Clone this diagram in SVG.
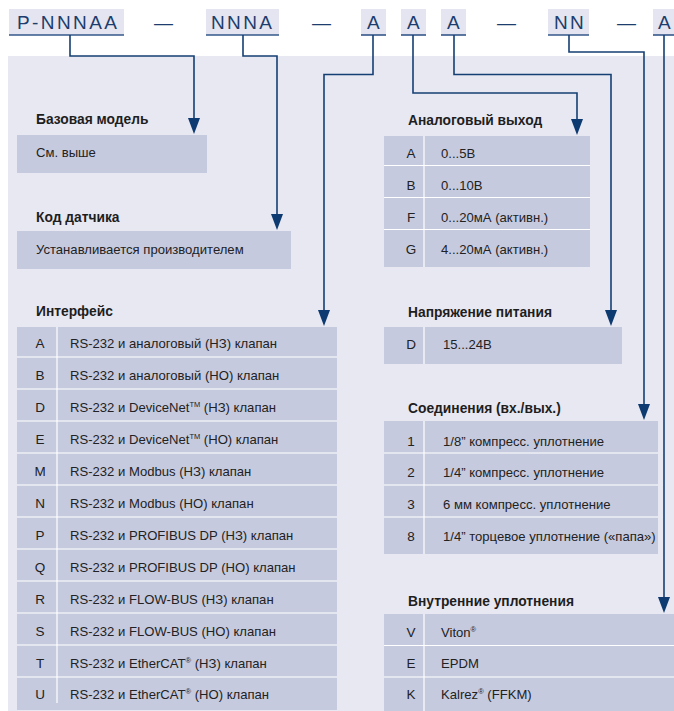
<svg xmlns="http://www.w3.org/2000/svg" width="674" height="711" viewBox="0 0 674 711">
<style>
.hbox{fill:#e4e5f0}
.hline{stroke:#34578a;stroke-width:1.6}
.htxt{font-family:"Liberation Sans",Arial,sans-serif;font-size:19px;fill:#1c3d6e;letter-spacing:2.4px}
.dash{font-family:"Liberation Sans",Arial,sans-serif;font-size:19px;fill:#1c3d6e}
.panel{fill:#e8e8f2}
.cell{fill:#c6cadf}
.sep{stroke:#ffffff;stroke-width:1.2}
.title{font-family:"Liberation Sans",Arial,sans-serif;font-size:13.8px;font-weight:bold;fill:#1e1e1e}
.t{font-family:"Liberation Sans",Arial,sans-serif;font-size:13.1px;fill:#222222}
.k{font-family:"Liberation Sans",Arial,sans-serif;font-size:13.5px;fill:#222222;text-anchor:middle}
.sup{font-size:7.5px}
.conn{fill:none;stroke:#143f74;stroke-width:1.6}
</style>
<defs>
<marker id="arr" markerUnits="userSpaceOnUse" markerWidth="16" markerHeight="12" refX="3" refY="6" orient="auto">
<path d="M0,0 L16,6 L0,12 z" fill="#0d3a70"/>
</marker>
</defs>

<rect class="panel" x="8" y="56" width="666" height="655"/>

<g id="header">
<g id="h-pnnnaa"><rect class="hbox" x="9" y="9" width="115" height="26"/><line class="hline" x1="9" y1="35" x2="124" y2="35"/><text class="htxt" x="17" y="28.5">P-NNNAA</text></g>
<text class="dash" x="154" y="28.5">—</text>
<g id="h-nnna"><rect class="hbox" x="206" y="9" width="73" height="26"/><line class="hline" x1="206" y1="35" x2="279" y2="35"/><text class="htxt" x="211" y="28.5">NNNA</text></g>
<text class="dash" x="312" y="28.5">—</text>
<g id="h-a1"><rect class="hbox" x="361" y="9" width="25" height="26"/><line class="hline" x1="361" y1="35" x2="386" y2="35"/><text class="htxt" x="374.5" y="28.5" text-anchor="middle">A</text></g>
<g id="h-a2"><rect class="hbox" x="401" y="9" width="25" height="26"/><line class="hline" x1="401" y1="35" x2="426" y2="35"/><text class="htxt" x="414.5" y="28.5" text-anchor="middle">A</text></g>
<g id="h-a3"><rect class="hbox" x="441" y="9" width="25" height="26"/><line class="hline" x1="441" y1="35" x2="466" y2="35"/><text class="htxt" x="454.5" y="28.5" text-anchor="middle">A</text></g>
<text class="dash" x="497" y="28.5">—</text>
<g id="h-nn"><rect class="hbox" x="548" y="9" width="41" height="26"/><line class="hline" x1="548" y1="35" x2="589" y2="35"/><text class="htxt" x="570" y="28.5" text-anchor="middle">NN</text></g>
<text class="dash" x="617" y="28.5">—</text>
<g id="h-a4"><rect class="hbox" x="653" y="9" width="25" height="26"/><line class="hline" x1="653" y1="35" x2="678" y2="35"/><text class="htxt" x="665.5" y="28.5" text-anchor="middle">A</text></g>
</g>

<g id="connectors">
<path class="conn" d="M70,35 V56 H194 V121" marker-end="url(#arr)"/>
<path class="conn" d="M243,35 V56 H277 V217" marker-end="url(#arr)"/>
<path class="conn" d="M373,35 V74.5 H324 V313" marker-end="url(#arr)"/>
<path class="conn" d="M413,35 V93 H577 V122" marker-end="url(#arr)"/>
<path class="conn" d="M454,35 V74.5 H611 V313" marker-end="url(#arr)"/>
<path class="conn" d="M569,35 V52 H644 V407" marker-end="url(#arr)"/>
<path class="conn" d="M664,35 V600" marker-end="url(#arr)"/>
</g>

<g id="base-model">
<text class="title" x="36" y="124">Базовая модель</text>
<rect class="cell" x="17" y="135" width="190" height="38"/>
<text class="t" x="36" y="157">См. выше</text>
</g>

<g id="sensor-code">
<text class="title" x="36" y="222">Код датчика</text>
<rect class="cell" x="17" y="231" width="274" height="38"/>
<text class="t" x="36" y="254">Устанавливается производителем</text>
</g>

<g id="interface">
<text class="title" x="36" y="316">Интерфейс</text>
<rect class="cell" x="17" y="327" width="320" height="383"/>
<line class="sep" x1="57" y1="327" x2="57" y2="703"/>
<line class="sep" x1="17" y1="357" x2="337" y2="357"/>
<line class="sep" x1="17" y1="389" x2="337" y2="389"/>
<line class="sep" x1="17" y1="421" x2="337" y2="421"/>
<line class="sep" x1="17" y1="453" x2="337" y2="453"/>
<line class="sep" x1="17" y1="485" x2="337" y2="485"/>
<line class="sep" x1="17" y1="517" x2="337" y2="517"/>
<line class="sep" x1="17" y1="549" x2="337" y2="549"/>
<line class="sep" x1="17" y1="581" x2="337" y2="581"/>
<line class="sep" x1="17" y1="613" x2="337" y2="613"/>
<line class="sep" x1="17" y1="645" x2="337" y2="645"/>
<line class="sep" x1="17" y1="677" x2="337" y2="677"/>
<text class="k" x="40" y="348">A</text><text class="t" x="70" y="348">RS-232 и аналоговый (НЗ) клапан</text>
<text class="k" x="40" y="380">B</text><text class="t" x="70" y="380">RS-232 и аналоговый (НО) клапан</text>
<text class="k" x="40" y="412">D</text><text class="t" x="70" y="412">RS-232 и DeviceNet<tspan class="sup" dy="-5">TM</tspan><tspan dy="5"> (НЗ) клапан</tspan></text>
<text class="k" x="40" y="444">E</text><text class="t" x="70" y="444">RS-232 и DeviceNet<tspan class="sup" dy="-5">TM</tspan><tspan dy="5"> (НО) клапан</tspan></text>
<text class="k" x="40" y="476">M</text><text class="t" x="70" y="476">RS-232 и Modbus (НЗ) клапан</text>
<text class="k" x="40" y="508">N</text><text class="t" x="70" y="508">RS-232 и Modbus (НО) клапан</text>
<text class="k" x="40" y="540">P</text><text class="t" x="70" y="540">RS-232 и PROFIBUS DP (НЗ) клапан</text>
<text class="k" x="40" y="572">Q</text><text class="t" x="70" y="572">RS-232 и PROFIBUS DP (НО) клапан</text>
<text class="k" x="40" y="604">R</text><text class="t" x="70" y="604">RS-232 и FLOW-BUS (НЗ) клапан</text>
<text class="k" x="40" y="636">S</text><text class="t" x="70" y="636">RS-232 и FLOW-BUS (НО) клапан</text>
<text class="k" x="40" y="668">T</text><text class="t" x="70" y="668">RS-232 и EtherCAT<tspan class="sup" dy="-5">®</tspan><tspan dy="5"> (НЗ) клапан</tspan></text>
<text class="k" x="40" y="699">U</text><text class="t" x="70" y="699">RS-232 и EtherCAT<tspan class="sup" dy="-5">®</tspan><tspan dy="5"> (НО) клапан</tspan></text>
</g>

<g id="analog-output">
<text class="title" x="408" y="125">Аналоговый выход</text>
<rect class="cell" x="384" y="136" width="206" height="131"/>
<line class="sep" x1="424" y1="136" x2="424" y2="267"/>
<line class="sep" x1="384" y1="165.5" x2="590" y2="165.5"/>
<line class="sep" x1="384" y1="197.5" x2="590" y2="197.5"/>
<line class="sep" x1="384" y1="229.5" x2="590" y2="229.5"/>
<text class="k" x="411" y="158">A</text><text class="t" x="441" y="158">0...5В</text>
<text class="k" x="411" y="190">B</text><text class="t" x="441" y="190">0...10В</text>
<text class="k" x="411" y="222">F</text><text class="t" x="441" y="222">0...20мА (активн.)</text>
<text class="k" x="411" y="254">G</text><text class="t" x="441" y="254">4...20мА (активн.)</text>
</g>

<g id="supply-voltage">
<text class="title" x="408" y="317">Напряжение питания</text>
<rect class="cell" x="384" y="327" width="238" height="37"/>
<line class="sep" x1="424" y1="327" x2="424" y2="364"/>
<text class="k" x="411" y="349">D</text><text class="t" x="443" y="349">15...24В</text>
</g>

<g id="connections">
<text class="title" x="408" y="413">Соединения (вх./вых.)</text>
<rect class="cell" x="384" y="421" width="274" height="133"/>
<line class="sep" x1="424" y1="421" x2="424" y2="554"/>
<line class="sep" x1="384" y1="453" x2="658" y2="453"/>
<line class="sep" x1="384" y1="485" x2="658" y2="485"/>
<line class="sep" x1="384" y1="517" x2="658" y2="517"/>
<text class="k" x="411" y="445.5">1</text><text class="t" x="443" y="445.5">1/8” компресс. уплотнение</text>
<text class="k" x="411" y="477">2</text><text class="t" x="443" y="477">1/4” компресс. уплотнение</text>
<text class="k" x="411" y="508.5">3</text><text class="t" x="443" y="508.5">6 мм компресс. уплотнение</text>
<text class="k" x="411" y="540.5">8</text><text class="t" x="443" y="540.5">1/4” торцевое уплотнение («папа»)</text>
</g>

<g id="seals">
<text class="title" x="408" y="606">Внутренние уплотнения</text>
<rect class="cell" x="384" y="614" width="290" height="97"/>
<line class="sep" x1="424" y1="614" x2="424" y2="711"/>
<line class="sep" x1="384" y1="645.5" x2="674" y2="645.5"/>
<line class="sep" x1="384" y1="677" x2="674" y2="677"/>
<text class="k" x="411" y="637">V</text><text class="t" x="441" y="637">Viton<tspan class="sup" dy="-5">®</tspan></text>
<text class="k" x="411" y="668">E</text><text class="t" x="441" y="668">EPDM</text>
<text class="k" x="411" y="699">K</text><text class="t" x="441" y="699">Kalrez<tspan class="sup" dy="-5">®</tspan><tspan dy="5"> (FFKM)</tspan></text>
</g>
</svg>
